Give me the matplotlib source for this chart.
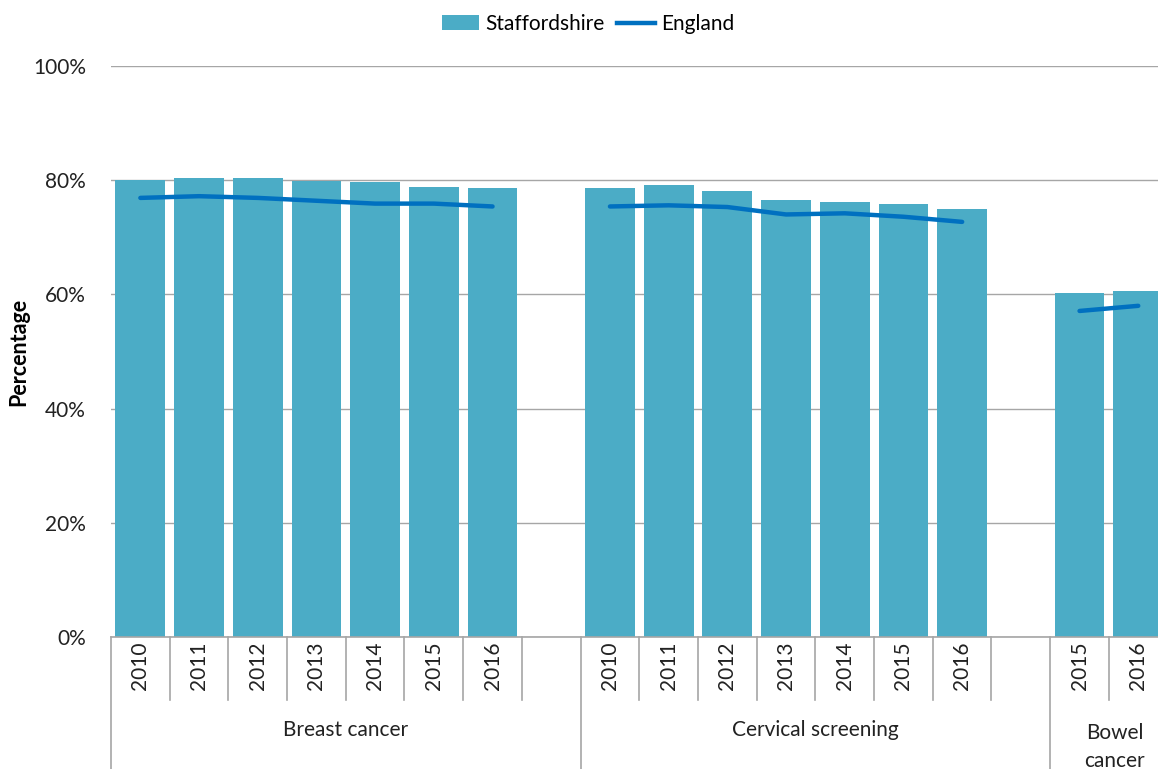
import matplotlib
matplotlib.use("Agg")
import matplotlib.pyplot as plt
from matplotlib.patches import Patch
from matplotlib.lines import Line2D

plt.rcParams["font.family"] = ["Lato", "DejaVu Sans"]

# screening coverage, percent
groups = ["Breast cancer", "Cervical screening", "Bowel\ncancer"]
breast_years = ["2010", "2011", "2012", "2013", "2014", "2015", "2016"]
cervical_years = ["2010", "2011", "2012", "2013", "2014", "2015", "2016"]
bowel_years = ["2015", "2016"]

breast_staffs = [80.0, 80.4, 80.4, 79.9, 79.7, 78.8, 78.6]
cervical_staffs = [78.6, 79.2, 78.1, 76.5, 76.2, 75.8, 75.0]
bowel_staffs = [60.2, 60.6]

breast_england = [76.9, 77.2, 76.9, 76.4, 75.9, 75.9, 75.4]
cervical_england = [75.4, 75.6, 75.3, 74.0, 74.2, 73.6, 72.7]
bowel_england = [57.1, 58.0]

BAR = "#4BACC6"
LINE = "#0070C0"
GRID = "#A6A6A6"
TXT = "#222222"
FS = 15

fig = plt.figure(figsize=(11.58, 7.69), dpi=100)
# plot area: x 111..1167 px (runs past the right edge), y 66..637 px
ax = fig.add_axes([111 / 1158, 132 / 769, 1056.6 / 1158, 571 / 769])

series = [
    (breast_years, breast_staffs, breast_england),
    (cervical_years, cervical_staffs, cervical_england),
    (bowel_years, bowel_staffs, bowel_england),
]

start = 0
spans = []
all_pos, all_labels = [], []
for years, staffs, eng in series:
    pos = list(range(start, start + len(years)))
    ax.bar(pos, staffs, width=0.85, color=BAR, zorder=2)
    ax.plot(pos, eng, color=LINE, lw=3.2, solid_capstyle="round",
            solid_joinstyle="round", zorder=3)
    all_pos += pos
    all_labels += years
    n_slots = len(years) + 1  # one blank slot after each group
    spans.append((start - 0.5, start - 0.5 + n_slots))
    start += n_slots

ax.set_xlim(-0.5, 17.5)
ax.set_ylim(0, 100)
ax.set_yticks(range(0, 101, 20))
ax.set_yticklabels([f"{v}%" for v in range(0, 101, 20)], fontsize=FS, color=TXT)
ax.yaxis.grid(True, color=GRID, lw=1.0, zorder=0)
ax.set_axisbelow(True)
ax.tick_params(axis="y", length=0, pad=18)
ax.set_ylabel("Percentage", fontsize=15.5, fontweight="bold")
ax.yaxis.set_label_coords(-0.077, 0.5)

for side in ["left", "right", "top"]:
    ax.spines[side].set_visible(False)
ax.spines["bottom"].set_color(GRID)
ax.spines["bottom"].set_linewidth(1.2)

ax.set_xticks([])
tr = ax.get_xaxis_transform()

# multi-level category axis
for (lo, hi), name in zip(spans, groups):
    for b in range(int(lo + 0.5), int(hi - 0.5)):
        x = b + 0.5
        ax.plot([x, x], [0, -0.11], transform=tr, color=GRID, lw=1.2, clip_on=False)
    ax.plot([lo, lo], [0, -0.25], transform=tr, color=GRID, lw=1.2, clip_on=False)
    if "\n" in name:
        ax.text(lo + 1.1, -0.192, name, transform=tr, ha="center", va="center",
                fontsize=FS, color=TXT, linespacing=1.5)
    else:
        ax.text((lo + hi) / 2, -0.163, name, transform=tr, ha="center",
                va="center", fontsize=FS, color=TXT)

for p, lab in zip(all_pos, all_labels):
    ax.text(p, -0.05, lab, transform=tr, rotation=90, ha="center", va="center",
            fontsize=FS, color=TXT)

handles = [Patch(facecolor=BAR, edgecolor="none", label="Staffordshire"),
           Line2D([0], [0], color=LINE, lw=3.2, label="England")]
fig.legend(handles=handles, loc="center", bbox_to_anchor=(588 / 1158, 1 - 24 / 769),
           ncol=2, frameon=False, fontsize=FS, handlelength=1.8, handletextpad=0.3,
           columnspacing=0.6)

fig.savefig("out.png", dpi=100)
